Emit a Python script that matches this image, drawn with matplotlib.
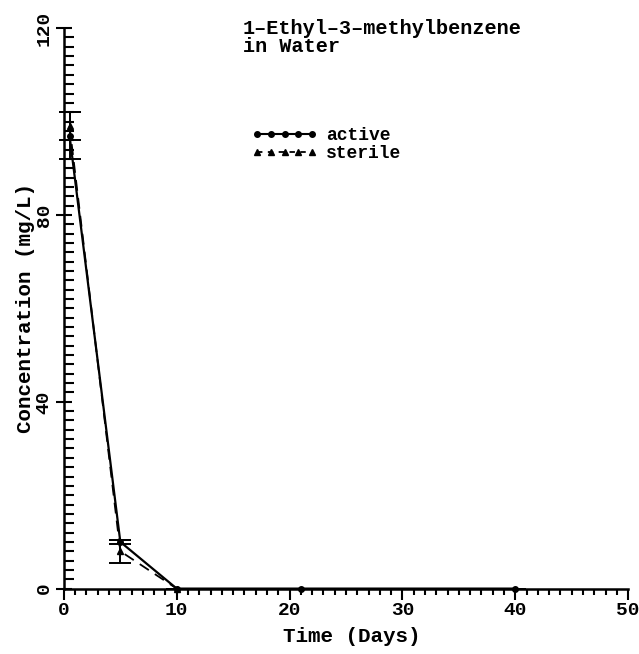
import matplotlib
matplotlib.use("Agg")
import matplotlib.pyplot as plt
from matplotlib.lines import Line2D
from matplotlib.ticker import MultipleLocator

# values
active_days = [0.5, 5, 10, 21, 40]
active_conc = [97, 10, 0, 0, 0]
active_err = [5, 0.5, 0, 0, 0]

sterile_days = [0.5, 5, 10]
sterile_conc = [99, 8, 0]
sterile_err = [3, 2.5, 0]

x_ticks = [0, 10, 20, 30, 40, 50]
y_ticks = [0, 40, 80, 120]

fnt = "Liberation Mono"

fig = plt.figure(figsize=(6.39, 6.54), dpi=100)
ax = fig.add_axes([0.1, 0.1, 0.883, 0.857])

ax.errorbar(active_days, active_conc, yerr=active_err, color="black", lw=1.6,
            marker="o", ms=4, capsize=8, capthick=1.4, elinewidth=1.4, clip_on=False)
ax.errorbar(sterile_days, sterile_conc, yerr=sterile_err, color="black", lw=1.3,
            ls=(0, (6, 4)), marker="^", ms=4, capsize=8, capthick=1.4, elinewidth=1.4,
            clip_on=False)

ax.set_xlim(0, 50)
ax.set_ylim(0, 120)
ax.set_xticks(x_ticks)
ax.set_yticks(y_ticks)
ax.xaxis.set_minor_locator(MultipleLocator(1))
ax.yaxis.set_minor_locator(MultipleLocator(2))
ax.tick_params(axis="x", which="major", direction="out", length=8, width=1.5, labelsize=14, pad=2)
ax.tick_params(axis="x", which="minor", direction="out", length=4.5, width=1.5)
ax.tick_params(axis="y", which="major", direction="inout", length=12, width=1.5, labelsize=14, pad=2)
ax.tick_params(axis="y", which="minor", direction="in", length=7, width=1.5)
for lab in ax.get_yticklabels():
    lab.set_rotation(90)
    lab.set_va("center")
for lab in ax.get_xticklabels() + ax.get_yticklabels():
    lab.set_fontfamily(fnt)
    lab.set_fontweight("bold")

for s in ["top", "right"]:
    ax.spines[s].set_visible(False)
for s in ["left", "bottom"]:
    ax.spines[s].set_linewidth(1.8)

ax.set_xlabel("Time (Days)", fontsize=15, fontfamily=fnt, fontweight="bold")
ax.set_ylabel("Concentration (mg/L)", fontsize=15, fontfamily=fnt, fontweight="bold")
ax.xaxis.set_label_coords(0.51, -0.068)
ax.yaxis.set_label_coords(-0.052, 0.5)

fig.text(243 / 639, 1 - 19 / 654, "1\u2013Ethyl\u20133\u2013methylbenzene\nin Water", fontsize=14.5,
         fontfamily=fnt, fontweight="bold", va="top", ha="left", linespacing=0.95)

handles = [
    Line2D([], [], color="black", lw=1.5, marker="o", ms=4),
    Line2D([], [], color="black", lw=1.3, ls=(0, (3, 3)), marker="^", ms=4),
]
fig.legend(handles, ["active", "sterile"], loc="upper left",
           bbox_to_anchor=(243 / 639, 1 - 118 / 654), frameon=False, numpoints=5,
           handlelength=3.6, handletextpad=0.5, labelspacing=0.05, borderpad=0,
           prop={"family": fnt, "weight": "bold", "size": 13})

fig.savefig("out.png", dpi=100)
